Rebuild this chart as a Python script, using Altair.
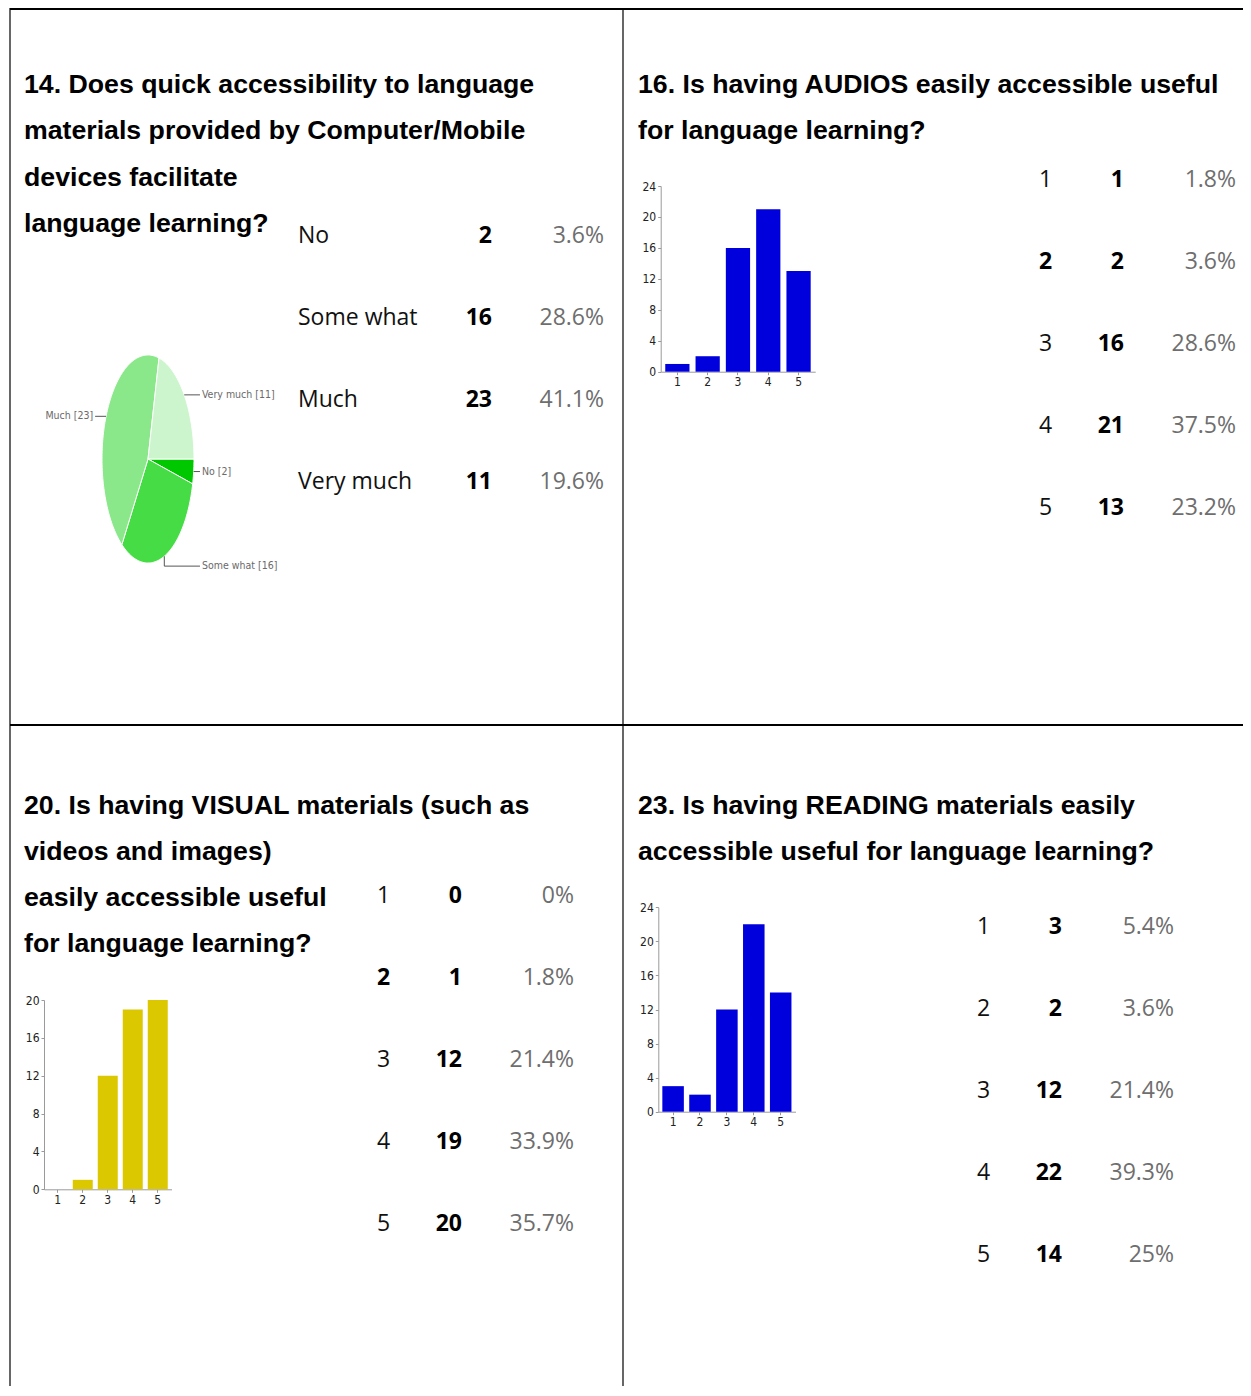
import altair as alt
import pandas as pd
import numpy as np

# ---------------- data ----------------
q14_title = ["14. Does quick accessibility to language",
             "materials provided by Computer/Mobile",
             "devices facilitate",
             "language learning?"]
q14_labels = ["No", "Some what", "Much", "Very much"]
q14_counts = [2, 16, 23, 11]
q14_pct = ["3.6%", "28.6%", "41.1%", "19.6%"]

q16_title = ["16. Is having AUDIOS easily accessible useful",
             "for language learning?"]
q16_labels = ["1", "2", "3", "4", "5"]
q16_counts = [1, 2, 16, 21, 13]
q16_pct = ["1.8%", "3.6%", "28.6%", "37.5%", "23.2%"]

q20_title = ["20. Is having VISUAL materials (such as",
             "videos and images)",
             "easily accessible useful",
             "for language learning?"]
q20_labels = ["1", "2", "3", "4", "5"]
q20_counts = [0, 1, 12, 19, 20]
q20_pct = ["0%", "1.8%", "21.4%", "33.9%", "35.7%"]

q23_title = ["23. Is having READING materials easily",
             "accessible useful for language learning?"]
q23_labels = ["1", "2", "3", "4", "5"]
q23_counts = [3, 2, 12, 22, 14]
q23_pct = ["5.4%", "3.6%", "21.4%", "39.3%", "25%"]

pie_colors = ["#00c800", "#45dc45", "#8ae88a", "#cdf5cd"]

# ---------------- layout helpers ----------------
W, H = 1235, 1378
OFF = 8


def P(v):
    return v - OFF


TITLE_FONT = "Liberation Sans"
TABLE_FONT = "Open Sans"
NARROW = "Liberation Sans Narrow, DejaVu Sans Condensed, sans-serif"


def text_col(texts, x_page, y_first, y_last, align, font, size, weight, color, keep=None):
    idx = list(range(len(texts)))
    if keep is not None:
        idx = [i for i in idx if keep(i)]
    df = pd.DataFrame({"t": [texts[i] for i in idx], "r": idx})
    return alt.Chart(df).mark_text(
        align=align, baseline="middle", font=font, fontSize=size,
        fontWeight=weight, color=color
    ).encode(
        x=alt.value(P(x_page)),
        y=alt.Y("r:Q", scale=alt.Scale(domain=[0, len(texts) - 1],
                                       range=[P(y_first), P(y_last)],
                                       nice=False, zero=False), axis=None),
        text="t:N",
    )


def title(lines, x_page, y_first, y_last):
    return text_col(lines, x_page, y_first, y_last, "left", TITLE_FONT, 26.7, "bold", "#000000")


def table(labels, counts, pcts, xl, xc, xp, y_first, y_last, bold_label=None):
    out = []
    if bold_label is None:
        out.append(text_col(labels, xl, y_first, y_last, "left", TABLE_FONT, 23, "normal", "#111111"))
    else:
        out.append(text_col(labels, xl, y_first, y_last, "left", TABLE_FONT, 23, "normal", "#111111",
                            keep=lambda i: labels[i] != bold_label))
        out.append(text_col(labels, xl, y_first, y_last, "left", TABLE_FONT, 23, "bold", "#000000",
                            keep=lambda i: labels[i] == bold_label))
    out.append(text_col([str(c) for c in counts], xc, y_first, y_last, "right", TABLE_FONT, 23, "bold", "#000000"))
    out.append(text_col(pcts, xp, y_first, y_last, "right", TABLE_FONT, 23, "normal", "#6e6e6e"))
    return out


def bar_chart(cats, counts, color, x0, step, ybase, ymax, ytop):
    df = pd.DataFrame({"k": cats, "v": counts})
    width = step * 5.1
    axis_common = dict(grid=False, title=None, domainColor="#9a9a9a", tickColor="#9a9a9a",
                       tickSize=3, labelFont=NARROW, labelFontSize=12, labelColor="#222222",
                       labelPadding=2)
    return alt.Chart(df).mark_bar(color=color).encode(
        x=alt.X("k:O",
                scale=alt.Scale(range=[P(x0), P(x0) + width], paddingInner=0.2, paddingOuter=0.15),
                axis=alt.Axis(orient="bottom", offset=P(ybase) - H, labelAngle=0, **axis_common)),
        y=alt.Y("v:Q",
                scale=alt.Scale(domain=[0, ymax], range=[P(ybase), P(ytop)], nice=False),
                axis=alt.Axis(orient="left", offset=-P(x0), values=list(range(0, ymax + 1, 4)),
                              **axis_common)),
    )


def rule(x1, x2, y1, y2, w):
    return alt.Chart(pd.DataFrame({"a": [0]})).mark_rule(color="#000000", strokeWidth=w).encode(
        x=alt.value(x1), x2=alt.value(x2), y=alt.value(y1), y2=alt.value(y2))


# ---------------- pie (Q14) ----------------
tot = sum(q14_counts)
poly_rows, lead_rows, lab_rows = [], [], []
cum = 0
for lab, c in zip(q14_labels, q14_counts):
    a0 = 90 + 360 * cum / tot
    cum += c
    a1 = 90 + 360 * cum / tot
    n = max(3, int((a1 - a0) / 1.5) + 2)
    angs = np.linspace(a0, a1, n)
    pts = [(0.0, 0.0)] + [(np.sin(np.radians(a)), np.cos(np.radians(a))) for a in angs] + [(0.0, 0.0)]
    for i, (x, y) in enumerate(pts):
        poly_rows.append({"s": lab, "i": i, "px": x, "py": y})
    mid = np.radians((a0 + a1) / 2)
    ax, ay = np.sin(mid), np.cos(mid)
    right = ax > 0
    lx = 1.13 if right else -1.15
    ly = -1.03 if ay < -0.9 else ay
    for i, (x, y) in enumerate([(ax, ay), (ax, ly), (lx, ly)]):
        lead_rows.append({"s": lab, "i": i, "px": x, "py": y})
    lab_rows.append({"s": lab, "t": f"{lab} [{c}]", "px": lx, "py": ly, "right": right})

poly_df = pd.DataFrame(poly_rows)
lead_df = pd.DataFrame(lead_rows)
lab_df = pd.DataFrame(lab_rows)

pie_cx, pie_cy, pie_rx, pie_ry = 148, 459, 46, 104
xs = alt.Scale(domain=[-1, 1], range=[P(pie_cx - pie_rx), P(pie_cx + pie_rx)], nice=False, zero=False)
ys = alt.Scale(domain=[-1, 1], range=[P(pie_cy + pie_ry), P(pie_cy - pie_ry)], nice=False, zero=False)

pie = alt.Chart(poly_df).mark_line(stroke="white", strokeWidth=1, strokeJoin="round").encode(
    x=alt.X("px:Q", scale=xs, axis=None),
    y=alt.Y("py:Q", scale=ys, axis=None),
    fill=alt.Fill("s:N", scale=alt.Scale(domain=q14_labels, range=pie_colors), legend=None),
    detail="s:N",
    order="i:Q",
)
leaders = alt.Chart(lead_df).mark_line(color="#555555", strokeWidth=1).encode(
    x=alt.X("px:Q", scale=xs, axis=None),
    y=alt.Y("py:Q", scale=ys, axis=None),
    detail="s:N",
    order="i:Q",
)
PIE_LABEL = dict(baseline="middle", font=NARROW, fontSize=10.5, color="#6a6a6a")
lab_r = alt.Chart(lab_df[lab_df["right"]]).mark_text(align="left", dx=2, **PIE_LABEL).encode(
    x=alt.X("px:Q", scale=xs, axis=None), y=alt.Y("py:Q", scale=ys, axis=None), text="t:N")
lab_l = alt.Chart(lab_df[~lab_df["right"]]).mark_text(align="right", dx=-2, **PIE_LABEL).encode(
    x=alt.X("px:Q", scale=xs, axis=None), y=alt.Y("py:Q", scale=ys, axis=None), text="t:N")

# ---------------- assemble ----------------
layers = [
    rule(2, W, 1, 1, 2),
    rule(2, W, P(725), P(725), 2),
    rule(P(10), P(10), 0, H, 1.2),
    rule(P(623), P(623), 0, H, 1.2),

    title(q14_title, 24, 85, 224),
    *table(q14_labels, q14_counts, q14_pct, 298, 492, 604, 236, 482),
    pie, leaders, lab_r, lab_l,

    title(q16_title, 638, 85, 131),
    *table(q16_labels, q16_counts, q16_pct, 1039, 1124, 1236, 180, 508, bold_label="2"),
    bar_chart(q16_labels, q16_counts, "#0000dc", 660.7, 30.3, 371.7, 24, 186),

    title(q20_title, 24, 806, 944),
    *table(q20_labels, q20_counts, q20_pct, 377, 462, 574, 896, 1224, bold_label="2"),
    bar_chart(q20_labels, q20_counts, "#dcc800", 44, 25, 1189.3, 20, 1000),

    title(q23_title, 638, 806, 852),
    *table(q23_labels, q23_counts, q23_pct, 977, 1062, 1174, 927, 1255),
    bar_chart(q23_labels, q23_counts, "#0000dc", 658.3, 26.9, 1111.7, 24, 907.3),
]

chart = alt.layer(*layers).resolve_scale(
    x="independent", y="independent", fill="independent"
).properties(
    width=W, height=H, padding=0, autosize=alt.AutoSizeParams(type="none"),
    background="white",
).configure_view(stroke=None)

chart.save("out.html", embed_options={"renderer": "svg", "actions": False})
